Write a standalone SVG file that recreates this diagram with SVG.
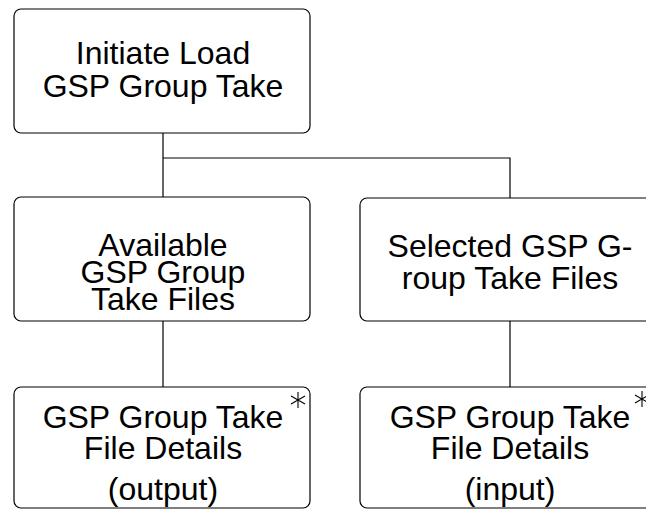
<svg xmlns="http://www.w3.org/2000/svg" width="646" height="510" viewBox="0 0 646 510">
<style>
.box{fill:#fff;stroke:#000;stroke-width:1.2}
.t{font-family:"Liberation Sans",Arial,sans-serif;font-size:32px;fill:#000;text-anchor:middle}
.c{fill:none;stroke:#000;stroke-width:1.2}
.ast{stroke:#000;stroke-width:1.1;fill:none}
</style>
<rect width="646" height="510" fill="#fff"/>
<g id="connectors">
<path class="c" d="M163,133 V197 M163,158 H510 V198 M163,321 V387 M510,321 V387"/>
</g>
<g id="n1">
<rect class="box" x="14" y="9" width="296" height="124" rx="7"/>
<text class="t" x="163" y="64">Initiate Load</text>
<text class="t" x="163" y="97">GSP Group Take</text>
</g>
<g id="n2">
<rect class="box" x="14" y="197" width="296" height="124" rx="7"/>
<text class="t" x="163" y="256">Available</text>
<text class="t" x="163" y="283">GSP Group</text>
<text class="t" x="163" y="310">Take Files</text>
</g>
<g id="n3">
<rect class="box" x="360" y="198" width="296" height="123" rx="7"/>
<text class="t" x="510" y="257">Selected GSP G-</text>
<text class="t" x="510" y="289">roup Take Files</text>
</g>
<g id="n4">
<rect class="box" x="14" y="387" width="296" height="121" rx="7"/>
<text class="t" x="163" y="428">GSP Group Take</text>
<text class="t" x="163" y="459">File Details</text>
<text class="t" x="163" y="500">(output)</text>
<path class="ast" d="M298,392 V408 M291,396 L305,404 M291,404 L305,396"/>
</g>
<g id="n5">
<rect class="box" x="360" y="387" width="296" height="121" rx="7"/>
<text class="t" x="510" y="428">GSP Group Take</text>
<text class="t" x="510" y="459">File Details</text>
<text class="t" x="510" y="500">(input)</text>
<path class="ast" d="M642,391 V407 M635,395 L649,403 M635,403 L649,395"/>
</g>
</svg>
